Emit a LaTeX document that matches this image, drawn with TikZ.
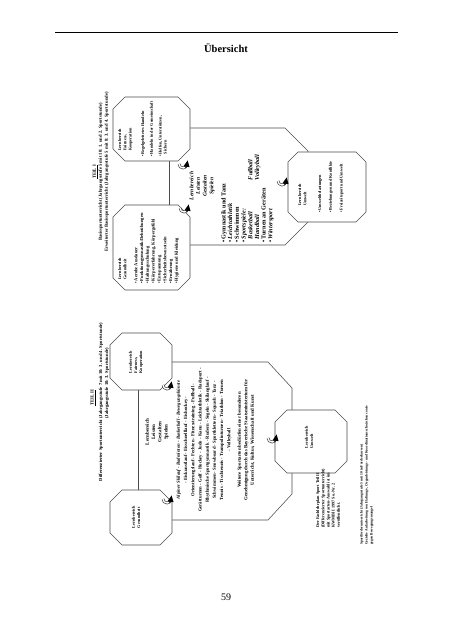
\documentclass[tikz,border=0pt]{standalone}
\usepackage{fontspec}
\setmainfont{Liberation Serif}
\usetikzlibrary{arrows.meta}
\newcommand\fsz[2]{\fontsize{#1}{#2}\selectfont}
\newcommand\octbox[2]{%
  \path[octline] ([xshift=#2pt]#1.north west) -- ([xshift=-#2pt]#1.north east) --
   ([yshift=-#2pt]#1.north east) -- ([yshift=#2pt]#1.south east) --
   ([xshift=-#2pt]#1.south east) -- ([xshift=#2pt]#1.south west) --
   ([yshift=#2pt]#1.south west) -- ([yshift=-#2pt]#1.north west) -- cycle;}
\tikzset{
  frame/.style={inner sep=0pt, outer sep=0pt, draw=none},
  octline/.style={draw=black!70, line width=0.55pt, fill=white},
  link/.style={draw=black!70, line width=0.55pt},
  rt/.style={rotate=90, inner sep=0pt, font=\bfseries\fsz{4.6}{6}},
  small/.style={rt, font=\bfseries\fsz{4.2}{5.2}},
  mid/.style={rt, font=\bfseries\fsz{6.2}{6.7}},
  curlarr/.pic={
    \draw[line width=2.6pt, black!80] (-4,1) arc[start angle=180, end angle=20, radius=4];
    \draw[line width=1.4pt, white] (-4,1) arc[start angle=180, end angle=60, radius=4];
    \fill[black] (4.6,-2.6) -- (6.6,4.2) -- (0.6,3.2) -- cycle;}
}
\begin{document}
\begin{tikzpicture}[x=1pt,y=-1pt]
\useasboundingbox (0,0) rectangle (452,640);
\fill[white] (0,0) rectangle (452,640);

% page header and footer
\draw[line width=0.8pt] (55,32) -- (398,32);
\node[inner sep=0pt, font=\bfseries\fsz{10.5}{12}] (title) at (226,48) {Übersicht};
\node[inner sep=0pt, font=\fsz{10}{12}] (pnum) at (226,597) {59};

% ================= TEIL I =================
\node[rt, align=center] (h1) at (101,172)
 {\underline{TEIL I}\\
  Basissportunterricht (Jahrgangsstufe 5 mit 10: 1. und 2. Sportstunde)\\
  Erweiterter Basissportunterricht (Jahrgangsstufe 5 mit 8: 3. und 4. Sportstunde)};

\node[frame, minimum width=118pt, minimum height=117pt] (c1) at (249,186.5) {};
\draw[link] (c1.north west) -- ([xshift=-23pt]c1.north east) -- ([yshift=-23pt]c1.north east)
  -- ([yshift=23pt]c1.south east) -- ([xshift=-23pt]c1.south east) -- (c1.south west);

\node[frame, minimum width=77pt, minimum height=64pt] (f1) at (151.5,129) {};
\node[frame, minimum width=77pt, minimum height=85pt] (g1) at (151.5,247.5) {};
\node[frame, minimum width=78pt, minimum height=70pt] (u1) at (327,187) {};
\draw[link] ([xshift=18pt]f1.south) -- ([xshift=18pt]g1.north);
\octbox{f1}{12}
\octbox{g1}{12}
\octbox{u1}{10}

\node[small, align=left, anchor=north west] (f1t) at (118,151)
 {Lernbereich\\Fairness,\\Kooperation};
\node[small, align=left, anchor=north west] (f1b) at (141,157)
 {• Regelgeleitetes Handeln\\[3.5pt]
  • Handeln in der Gemeinschaft\\[3.5pt]
  • Helfen, Unterstützen,\\ \phantom{• }Sichern};

\node[small, align=left, anchor=north west] (g1t) at (118,280)
 {Lernbereich\\Gesundheit};
\node[small, align=left, anchor=north west, font=\bfseries\fsz{4.5}{5.8}] (g1b) at (134,284)
 {• Aerobe Ausdauer\\
  • Funktionsgymnastik/Dehnübungen\\
  • Haltungsschulung\\
  • Körpererfahrung, Körpergefühl\\
  • Entspannung\\
  • Sicherheitsbewusstsein\\
  • Ernährung\\
  • Hygiene und Kleidung};

\node[rt, align=center, font=\bfseries\itshape\fsz{5.6}{6.7}] (c1t) at (202,186)
 {Lernbereich\\Leisten\\Gestalten\\Spielen};
\node[mid, align=left, anchor=north west] (c1b) at (221,243)
 {• Gymnastik und Tanz\\
  • \textit{Leichtathletik}\\
  • Schwimmen\\
  • \textit{Sportspiele:}\\
  \phantom{• }\makebox[59pt][l]{\textit{Basketball}}\textit{Fußball}\\
  \phantom{• }\makebox[59pt][l]{\textit{Handball}}\textit{Volleyball}\\
  • Turnen an Geräten\\
  • \textit{Wintersport}};

\node[small, align=left, anchor=north west] (u1t) at (298,206)
 {Lernbereich\\Umwelt};
\node[small, align=left, anchor=north west] (u1b) at (318,213)
 {• Umweltbelastungen\\[5.5pt]
  • Beziehungen und Konflikte\\[5.5pt]
  • Freizeitsport und Umwelt};

\pic at (183,163) {curlarr};
\pic at (184,207) {curlarr};
\pic at (282,180) {curlarr};

% ================= TEIL II =================
\node[rt] (h2a) at (93,398) {\underline{TEIL II}};
\node[rt, align=left] (h2b) at (104,402)
 {Differenzierter Sportunterricht (Jahrgangsstufe 7 mit 10: 3. und 4. Sportstunde)\\
  \phantom{Differenzierter Sportunterricht }(Jahrgangsstufe 10: 3. Sportstunde)};

\node[frame, minimum width=120pt, minimum height=158pt] (c2) at (232,441) {};
\draw[link] (c2.north west) -- ([xshift=-24pt]c2.north east) -- ([yshift=-26pt]c2.north east)
  -- ([yshift=26pt]c2.south east) -- ([xshift=-24pt]c2.south east) -- (c2.south west);

\node[frame, minimum width=62pt, minimum height=57pt] (f2) at (141,361.5) {};
\node[frame, minimum width=62pt, minimum height=55pt] (g2) at (141,517.5) {};
\node[frame, minimum width=72pt, minimum height=63pt] (u2) at (311,441.5) {};
\draw[link] ([xshift=-3pt]f2.south) -- ([xshift=-3pt]g2.north);
\octbox{f2}{12}
\octbox{g2}{12}
\octbox{u2}{12}

\node[small, align=left] (f2t) at (136,362) {Lernbereich\\Fairness,\\Kooperation};
\node[small, align=left] (g2t) at (136,517) {Lernbereich\\Gesundheit};
\node[rt, align=center, font=\bfseries\fsz{5}{6.2}] (c2t) at (157,432)
 {Lernbereich\\Leisten\\Gestalten\\Spielen};

\node[rt, align=center, font=\bfseries\fsz{4.7}{7.2}] (c2b) at (204,440)
 {\textit{Alpiner Skilauf - Badminton - Basketball - Bewegungskünste}\\
  - Eiskunstlauf - Eisschnelllauf - Eishockey -\\
  Orientierungslauf - Fechten - Fitnesstraining - Fußball -\\
  Gerätturnen - Golf - Hockey - Judo - Kanu - Leichtathletik - Radsport -\\
  Rhythmische Sportgymnastik - Rudern - Segeln - Skilanglauf -\\
  Schwimmen - Snowboard - Sportklettern - Squash - Tanz -\\
  Tennis - Tischtennis - Trampolinturnen - Triathlon - Turnen\\
  - Volleyball};
\node[rt, align=center, font=\bfseries\fsz{4.8}{6.5}] (c2w) at (246,440)
 {Weitere Sportarten bedürfen einer besonderen\\
  Genehmigung durch das Bayerische Staatsministerium für\\
  Unterricht, Kultus, Wissenschaft und Kunst};

\node[small, align=left] (u2t) at (309,437) {Lernbereich\\Umwelt};

\pic at (167,384) {curlarr};
\pic at (167,498) {curlarr};
\pic at (272,437) {curlarr};

\node[small, align=left, anchor=north west] (n1) at (316,528)
 {Der Fachlehrplan Sport Teil II\\
  (Differenzierter Sportunterricht)\\
  mit Sportarten-Auswahl ist im\\
  KWMBl I 1997 So.-Nr. 2\\
  veröffentlicht.};
\node[rt, align=left, anchor=north west, font=\bfseries\fsz{3.6}{5}] (n2) at (360,545)
 {Sportförderunterricht (Jahrgangsstufe 5 mit 10 in Förderkursen)\\
  Gezielte Aufarbeitung von Haltungs-, Organleistungs- und Koordinationsschwächen sowie\\
  gegen Bewegungsmangel};
\end{tikzpicture}
\end{document}
